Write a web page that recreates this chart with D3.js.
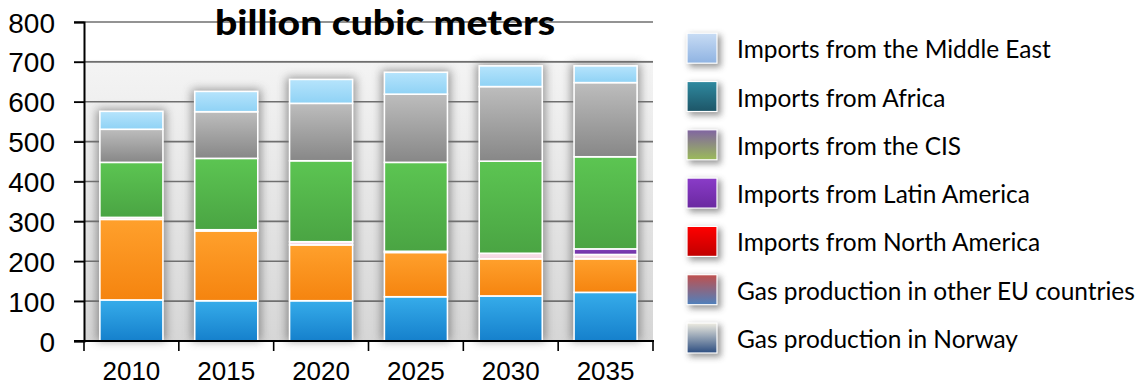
<!DOCTYPE html>
<html><head><meta charset="utf-8">
<script src="https://cdn.jsdelivr.net/npm/d3@7"></script>
<style>
html,body{margin:0;padding:0;background:#fff;}
svg{display:block;}
.lbl{font-family:"Liberation Sans", Arial, sans-serif;}
</style></head>
<body>
<svg id="chart" width="1139" height="385"></svg>
<script>
// ---- data ----
const years = ["2010","2015","2020","2025","2030","2035"];
const norway       = [103, 101, 101, 111, 113, 122];
const otherEU      = [202, 175, 140, 111,  93,  84];
const northAmerica = [  5,   3,   8,   3,  14,  11];
const latinAmerica = [  0,   0,   0,   0,   0,  14];
const cis          = [138, 179, 203, 223, 231, 231];
const africa       = [ 83, 117, 144, 171, 187, 186];
const middleEast   = [ 45,  51,  60,  55,  52,  42];
const yTicks = [0,100,200,300,400,500,600,700,800];
const seriesNames = ["Gas production in Norway","Gas production in other EU countries","Imports from North America","Imports from Latin America","Imports from the CIS","Imports from Africa","Imports from the Middle East"];
const seriesValues = [norway, otherEU, northAmerica, latinAmerica, cis, africa, middleEast];
const titleText = "billion cubic meters";

// bar gradients (top, bottom) and legend gradients (top, bottom)
const barColors = [["#36acea","#1580cc"],["#ffa02c","#f5840f"],["#f9e0ea","#f3d4e0"],["#8240b8","#6e2fa4"],["#5cc552","#4aa443"],["#bdbdbd","#878787"],["#b6e4fc","#8fd2f5"]];
const legColors = [["#eeece1","#2c4d80"],["#c0504d","#4f81bd"],["#ff0000","#c00000"],["#8a3cc8","#6a28a0"],["#8064a2","#9bbb59"],["#2f8aa0","#1d5567"],["#c8dcf4","#8fb3e2"]];

const svg = d3.select("#chart");
const defs = svg.append("defs");
function vgrad(id, c){
  const g = defs.append("linearGradient").attr("id",id).attr("x1",0).attr("y1",0).attr("x2",0).attr("y2",1);
  g.append("stop").attr("offset","0%").attr("stop-color",c[0]);
  g.append("stop").attr("offset","100%").attr("stop-color",c[1]);
}
barColors.forEach((c,i)=>vgrad("bg"+i,c));
legColors.forEach((c,i)=>vgrad("lg"+i,c));
vgrad("plotbg",["#f4f4f4","#d6d6d6"]);
const blur = defs.append("filter").attr("id","blur").attr("x","-50%").attr("y","-50%").attr("width","200%").attr("height","200%");
blur.append("feGaussianBlur").attr("stdDeviation",5);
const blur2 = defs.append("filter").attr("id","blur2").attr("x","-50%").attr("y","-50%").attr("width","200%").attr("height","200%");
blur2.append("feGaussianBlur").attr("stdDeviation",3);

const mLeft = 84, mRight = 653, mTop = 22, mBottom = 341;
const x = d3.scaleBand().domain(years).range([mLeft,mRight]).paddingInner(0.335).paddingOuter(0.1675);
const y = d3.scaleLinear().domain([0,800]).range([mBottom,mTop]);

// plot background
svg.append("rect").attr("x",mLeft).attr("y",y(705)).attr("width",mRight-mLeft).attr("height",mBottom-y(705)).attr("fill","url(#plotbg)");

// stack
const table = years.map((yr,i)=>{const o={year:yr}; seriesNames.forEach((n,k)=>o[n]=seriesValues[k][i]); return o;});
const stacked = d3.stack().keys(seriesNames)(table);

// bar shadows
const totals = years.map((yr,i)=>d3.sum(seriesValues,s=>s[i]));
svg.append("g").selectAll("rect").data(years).join("rect")
  .attr("x",d=>x(d)-3).attr("width",x.bandwidth()+6)
  .attr("y",(d,i)=>y(totals[i])-2).attr("height",(d,i)=>mBottom-y(totals[i])+2)
  .attr("fill","#555").attr("opacity",0.6).attr("filter","url(#blur)");

// gridlines
svg.append("g").selectAll("line").data(yTicks.filter(t=>t>0)).join("line")
  .attr("x1",74).attr("x2",mRight).attr("y1",d=>y(d)).attr("y2",d=>y(d))
  .attr("stroke","#6f6f6f").attr("stroke-width",1.6);

// bars
const gBars = svg.append("g");
stacked.forEach((s,k)=>{
  gBars.append("g").selectAll("rect").data(s.filter(d=>d[1]-d[0]>0)).join("rect")
    .attr("x",d=>x(d.data.year)).attr("width",x.bandwidth())
    .attr("y",d=>y(d[1])).attr("height",d=>y(d[0])-y(d[1]))
    .attr("fill","url(#bg"+k+")").attr("stroke","#fff").attr("stroke-width",1.6);
});

// axes
const yAxis = d3.axisLeft(y).tickValues(yTicks).tickSize(10).tickFormat(d3.format("d"));
const ya = svg.append("g").attr("transform",`translate(${mLeft},0)`).call(yAxis);
ya.attr("font-family",null).attr("font-size",null);
ya.select(".domain").attr("stroke","#000").attr("stroke-width",2);
ya.selectAll(".tick line").attr("stroke","#000").attr("stroke-width",1.6);
ya.selectAll(".tick text").attr("class","lbl").style("font-size","28px").attr("fill","#000")
  .attr("x",-29).attr("dy","0.36em");

const xAxis = d3.axisBottom(x).tickSize(0);
const xa = svg.append("g").attr("transform",`translate(0,${mBottom})`).call(xAxis);
xa.attr("font-family",null).attr("font-size",null);
xa.select(".domain").remove();
xa.selectAll(".tick text").attr("class","lbl").style("font-size","26px").attr("fill","#000")
  .attr("y",38.5).attr("dy",0);
svg.append("line").attr("x1",74).attr("x2",mRight+1).attr("y1",mBottom).attr("y2",mBottom).attr("stroke","#000").attr("stroke-width",2);
const bounds = years.map(d=>x(d)-x.step()*x.paddingInner()/2).concat([mRight]);
bounds[0]=mLeft;
svg.append("g").selectAll("line").data(bounds).join("line")
  .attr("x1",d=>d).attr("x2",d=>d).attr("y1",mBottom).attr("y2",mBottom+10).attr("stroke","#000").attr("stroke-width",1.6);

// title
svg.append("text").text(titleText).attr("x",385).attr("y",35).attr("text-anchor","middle")
  .attr("font-family","Lato, 'Open Sans', sans-serif").attr("font-weight",900).attr("font-size",34).attr("fill","#000")
  .attr("textLength",340).attr("lengthAdjust","spacingAndGlyphs");

// legend
const legendOrder = seriesNames.map((n,k)=>k).reverse();
const lg = svg.append("g");
const legItems = lg.selectAll("g").data(legendOrder).join("g")
  .attr("transform",(k,i)=>`translate(687,${48.2+i*48.3})`);
legItems.append("rect").attr("x",2).attr("y",-13).attr("width",32).attr("height",32).attr("fill","#444").attr("opacity",0.55).attr("filter","url(#blur2)");
legItems.append("rect").attr("x",0).attr("y",-15).attr("width",30).attr("height",30)
  .attr("fill",k=>"url(#lg"+k+")").attr("stroke","#fff").attr("stroke-width",1.2);
const lt = legItems.append("text").text(k=>seriesNames[k]).attr("x",50).attr("y",10)
  .attr("font-family","Lato, 'Open Sans', sans-serif").attr("font-size",23).attr("fill","#000");
const longest = d3.max(lt.nodes(),n=>n.getComputedTextLength());
lt.attr("font-size",23*398/longest);
</script>
</body></html>
